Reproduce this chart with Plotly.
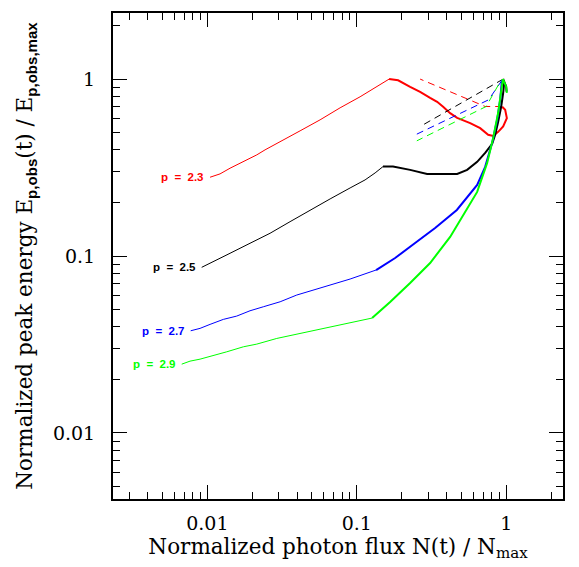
import math
import plotly.graph_objects as go

# ---- data (normalized photon flux N/Nmax, normalized peak energy E/Emax) ----
red_thin_x = [0.01043, 0.01216, 0.01419, 0.01742, 0.02143, 0.02433, 0.0307, 0.04174, 0.0568, 0.0773, 0.1052, 0.1326, 0.1645]
red_thin_y = [0.2788, 0.2911, 0.3135, 0.3418, 0.3729, 0.398, 0.4416, 0.5099, 0.5884, 0.6879, 0.7941, 0.8929, 1.0]
red_thick_x = [0.1645, 0.189, 0.2274, 0.2652, 0.3094, 0.3447, 0.378, 0.4211, 0.4692, 0.5733, 0.6689, 0.7566, 0.8173, 0.8826, 0.9535, 1.009, 0.983, 0.939]
red_thick_y = [1.0, 0.984, 0.9046, 0.8475, 0.7837, 0.7439, 0.697, 0.642, 0.604, 0.5636, 0.528, 0.4839, 0.4776, 0.5031, 0.5393, 0.6016, 0.6703, 0.697]
red_dash_x = [0.939, 0.7225, 0.2652]
red_dash_y = [0.70, 0.70, 1.0]

black_thin_x = [0.00917, 0.01043, 0.01216, 0.01419, 0.0193, 0.02628, 0.03577, 0.04868, 0.0663, 0.0902, 0.1136, 0.1326, 0.1497]
black_thin_y = [0.0863, 0.0909, 0.0970, 0.1036, 0.1180, 0.1344, 0.1563, 0.1821, 0.2102, 0.2425, 0.2692, 0.2949, 0.3201]
black_thick_x = [0.1497, 0.1747, 0.2274, 0.2954, 0.4692, 0.5473, 0.6387, 0.7225, 0.8047, 0.8426, 0.8826, 0.9244, 0.9535, 0.9683, 0.9535, 0.998, 1.005]
black_thick_y = [0.3201, 0.3201, 0.3067, 0.2911, 0.2911, 0.3067, 0.3404, 0.3827, 0.4304, 0.484, 0.5733, 0.697, 0.8366, 0.953, 1.0, 0.908, 0.85]
black_dash_x = [0.9535, 0.2652]
black_dash_y = [1.0, 0.5393]

blue_thin_x = [0.00774, 0.00894, 0.01043, 0.0128, 0.01573, 0.0193, 0.0237, 0.0307, 0.03966, 0.04868, 0.0663, 0.0902, 0.1346]
blue_thin_y = [0.03779, 0.03899, 0.04107, 0.04383, 0.04575, 0.04902, 0.05164, 0.05512, 0.06016, 0.06337, 0.06852, 0.07409, 0.08331]
blue_thick_x = [0.1346, 0.1805, 0.2455, 0.3342, 0.467, 0.6387, 0.7225, 0.8047, 0.8689, 0.9104, 0.9345]
blue_thick_y = [0.08331, 0.0974, 0.1185, 0.1441, 0.1821, 0.2522, 0.3189, 0.4361, 0.5884, 0.7633, 0.982]
blue_dash_x = [0.9345, 0.7613, 0.2521]
blue_dash_y = [0.982, 0.7633, 0.4884]

green_thin_x = [0.00674, 0.00766, 0.00894, 0.01097, 0.01349, 0.01742, 0.02143, 0.02914, 0.03966, 0.04868, 0.0663, 0.0902, 0.1266]
green_thin_y = [0.02447, 0.02545, 0.02612, 0.02753, 0.02874, 0.03067, 0.03177, 0.0342, 0.03618, 0.03762, 0.03963, 0.04177, 0.04459]
green_thick_x = [0.1266, 0.1671, 0.2274, 0.3094, 0.4211, 0.5389, 0.6387, 0.745, 0.8173, 0.8826, 0.9345, 0.949, 0.998, 1.009]
green_thick_y = [0.04459, 0.0549, 0.0704, 0.0913, 0.1281, 0.1821, 0.2302, 0.336, 0.4653, 0.6446, 0.870, 1.0, 0.908, 0.8366]
green_dash_x = [0.8867, 0.7336, 0.2521]
green_dash_y = [0.929, 0.700, 0.4476]

labels = ["p = 2.3", "p = 2.5", "p = 2.7", "p = 2.9"]
colors = ["#ff0000", "#000000", "#0000ff", "#00ff00"]

x_major = [0.01, 0.1, 1]
x_major_text = ["0.01", "0.1", "1"]
y_major = [0.01, 0.1, 1]
y_major_text = ["0.01", "0.1", "1"]
x_minor = [0.003, 0.004, 0.005, 0.006, 0.007, 0.008, 0.009,
           0.02, 0.03, 0.04, 0.05, 0.06, 0.07, 0.08, 0.09,
           0.2, 0.3, 0.4, 0.5, 0.6, 0.7, 0.8, 0.9, 2]
y_minor = [0.005, 0.006, 0.007, 0.008, 0.009,
           0.02, 0.03, 0.04, 0.05, 0.06, 0.07, 0.08, 0.09,
           0.2, 0.3, 0.4, 0.5, 0.6, 0.7, 0.8, 0.9, 2]

series = [
    (red_thin_x, red_thin_y, red_thick_x, red_thick_y, red_dash_x, red_dash_y),
    (black_thin_x, black_thin_y, black_thick_x, black_thick_y, black_dash_x, black_dash_y),
    (blue_thin_x, blue_thin_y, blue_thick_x, blue_thick_y, blue_dash_x, blue_dash_y),
    (green_thin_x, green_thin_y, green_thick_x, green_thick_y, green_dash_x, green_dash_y),
]

fig = go.Figure()
for (tx, ty, kx, ky, dx, dy), c, lab in zip(series, colors, labels):
    fig.add_trace(go.Scatter(x=tx, y=ty, mode="lines", line=dict(color=c, width=1), showlegend=False, hoverinfo="skip"))
    fig.add_trace(go.Scatter(x=kx, y=ky, mode="lines", line=dict(color=c, width=2), showlegend=False, hoverinfo="skip"))
    fig.add_trace(go.Scatter(x=dx, y=dy, mode="lines", line=dict(color=c, width=1, dash="7px,5px"), showlegend=False, hoverinfo="skip"))
    fig.add_annotation(x=math.log10(tx[0]), y=math.log10(ty[0]), xref="x", yref="y",
                       text="<b>" + lab.replace(" ", "\u00a0\u00a0") + "</b>", showarrow=False,
                       xanchor="right", yanchor="middle", xshift=-4,
                       font=dict(family="Liberation Sans, Arial", size=11.5, color=c))

serif = "DejaVu Serif"
sub_style = "<sub><span style='font-family:Liberation Sans, Arial'><b>%s</b></span></sub>"

axis_common = dict(
    type="log", showgrid=False, zeroline=False,
    showline=True, linecolor="black", linewidth=2, mirror="ticks",
    ticks="inside", ticklen=14, tickwidth=1, tickcolor="black",
    tickfont=dict(family=serif, size=19, color="black"),
    minor=dict(ticks="inside", ticklen=7, tickwidth=1, tickcolor="black", showgrid=False),
)

fig.update_xaxes(**axis_common, range=[-2.631, 0.3795], tickmode="array",
                 tickvals=x_major, ticktext=x_major_text, ticklabelstandoff=6,
                 title=dict(text="Normalized photon flux N(t) / N<sub>max</sub>",
                            font=dict(family=serif, size=21.5, color="black"), standoff=6))
fig.update_xaxes(minor_tickmode="array", minor_tickvals=x_minor)
fig.update_yaxes(**axis_common, range=[-2.3735, 0.3735], tickmode="array",
                 tickvals=y_major, ticktext=y_major_text, ticklabelstandoff=12,
                 title=dict(text="Normalized peak energy E" + (sub_style % "p,obs") + "(t) / E" + (sub_style % "p,obs,max"),
                            font=dict(family=serif, size=21.5, color="black"), standoff=14))
fig.update_yaxes(minor_tickmode="array", minor_tickvals=y_minor)

fig.update_layout(
    width=579, height=567,
    margin=dict(l=113, r=16, t=13, b=68),
    paper_bgcolor="white", plot_bgcolor="white",
)

fig.write_html("out.html")
